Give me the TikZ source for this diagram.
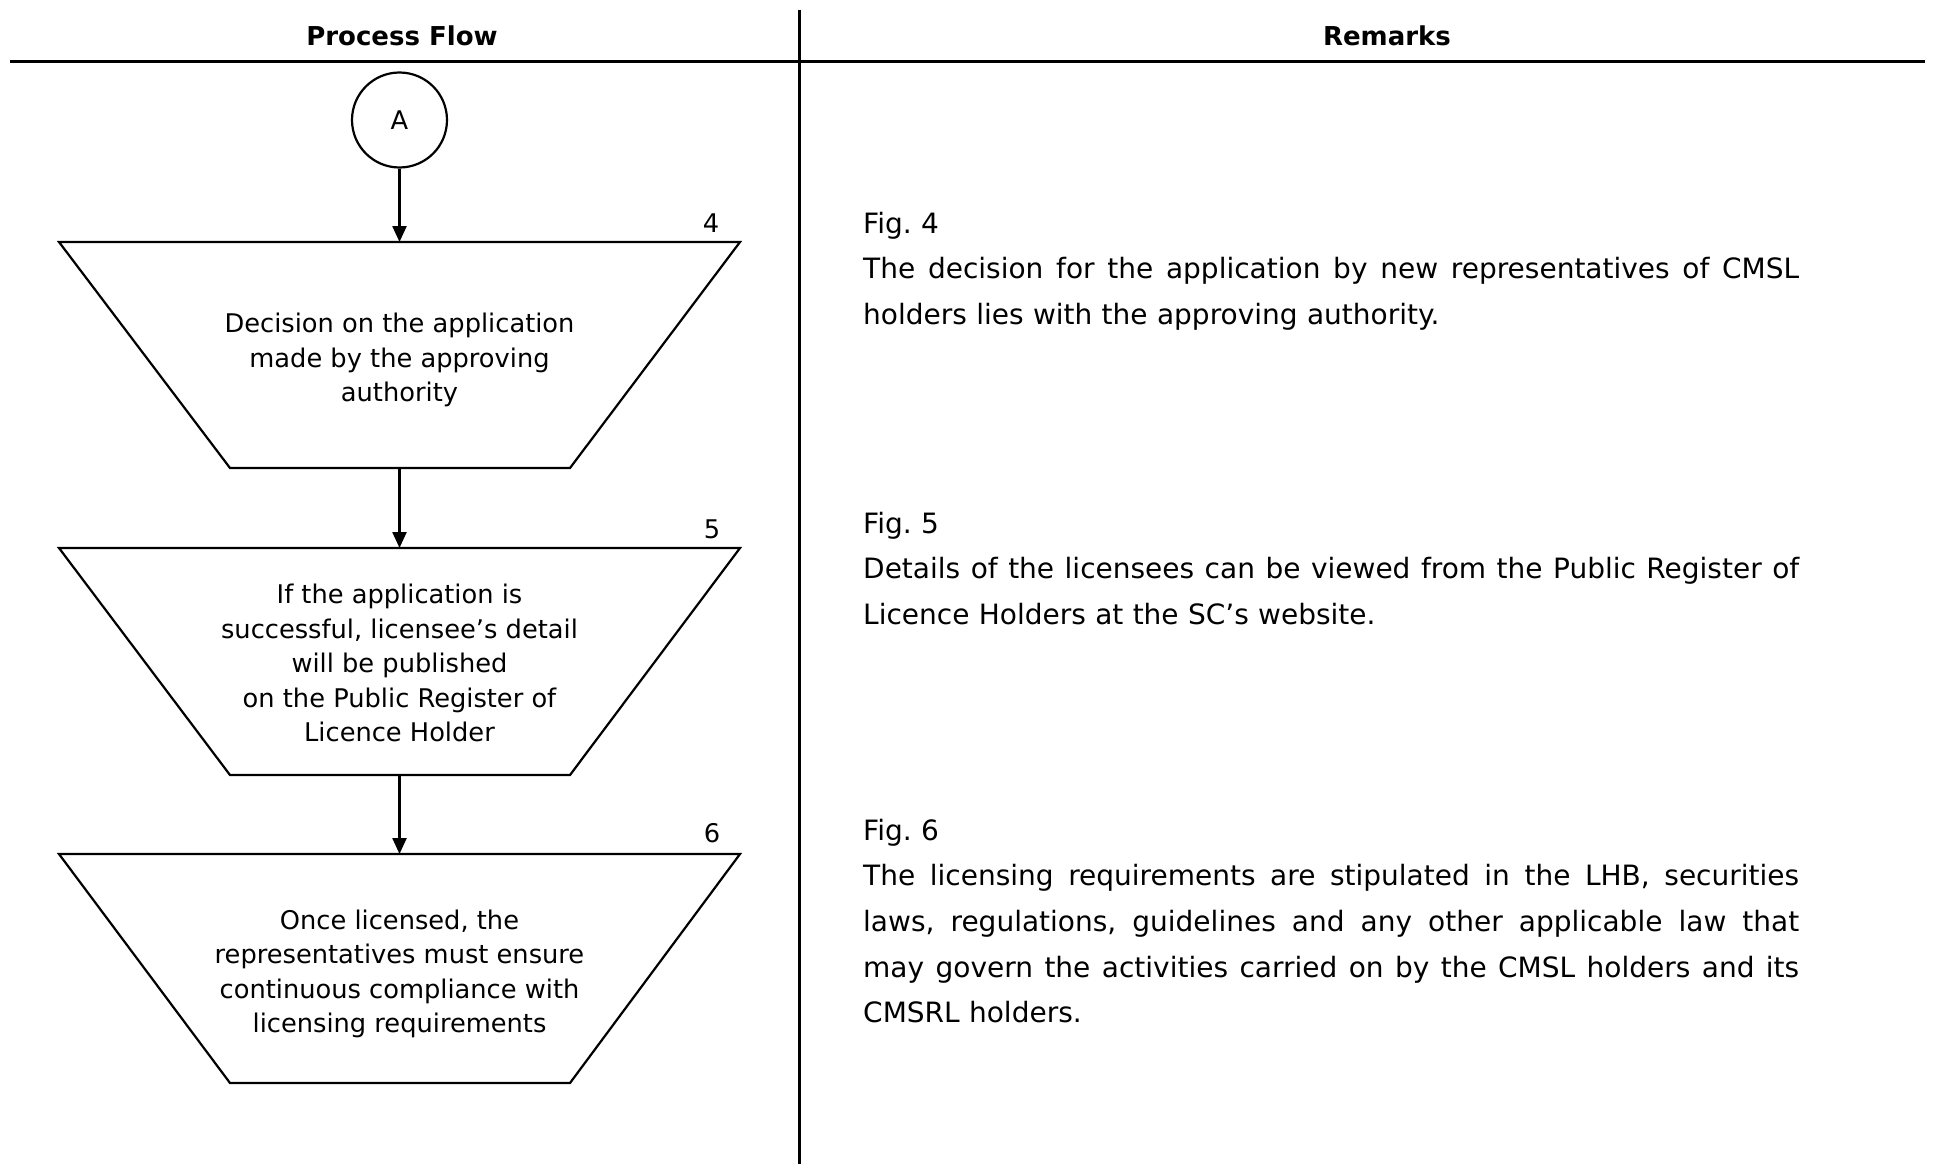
\documentclass[tikz,border=0pt]{standalone}
\usepackage{fontspec}
\setmainfont{DejaVu Sans}
\usetikzlibrary{arrows.meta}
\frenchspacing
% a fully justified line of the given width
\newcommand\jline[2]{\leavevmode\hbox to #1{\spaceskip=\fontdimen2\font plus 1fill minus \fontdimen4\font\relax #2}}
\begin{document}
\begin{tikzpicture}[x=1pt,y=-1pt,
  rule/.style={line width=3pt},
  boxline/.style={draw,line width=2.2pt,line join=miter},
  boxtext/.style={inner sep=0pt,align=center,font=\fontsize{25.7}{34.5}\selectfont},
  connector/.style={draw,line width=2.2pt,circle,minimum width=95pt,inner sep=0pt,
    font=\fontsize{25.7}{32}\selectfont},
  flow/.style={line width=2.4pt,-{Triangle[length=16pt,width=14pt]}},
  head/.style={font=\fontsize{26}{32}\selectfont\bfseries},
  stepno/.style={font=\fontsize{25.7}{32}\selectfont},
  remark/.style={anchor=base west,inner sep=0pt,text width=936pt,align=left,
    font=\fontsize{28}{45.7}\selectfont}]
\useasboundingbox (0,0) rectangle (1935,1164);

% table rules
\coordinate (hl) at (10,61.5);
\coordinate (hr) at (1925,61.5);
\coordinate (vt) at (799,10);
\coordinate (vb) at (799,1164);
\draw[rule] (hl) -- (hr);
\draw[rule] (vt) -- (vb);

% column headings
\node[head] (hflow) at (402,36) {Process Flow};
\node[head] (hrem) at (1387,36) {Remarks};

% process flow: connector and three inverted trapezia
\node[connector] (A) at (399.5,120) {A};

\coordinate (s4top) at (399.5,242);
\coordinate (s4bot) at (399.5,468);
\draw[boxline] (59,242) -- (740,242) -- (570,468) -- (230,468) -- cycle;
\node[boxtext] (s4) at (399.5,360) {Decision on the application\\made by the approving\\authority};

\coordinate (s5top) at (399.5,548);
\coordinate (s5bot) at (399.5,775);
\draw[boxline] (59,548) -- (740,548) -- (570,775) -- (230,775) -- cycle;
\node[boxtext] (s5) at (399.5,663) {If the application is\\successful, licensee’s detail\\will be published\\on the Public Register of\\Licence Holder};

\coordinate (s6top) at (399.5,854);
\draw[boxline] (59,854) -- (740,854) -- (570,1083) -- (230,1083) -- cycle;
\node[boxtext] (s6) at (399.5,974) {Once licensed, the\\representatives must ensure\\continuous compliance with\\licensing requirements};

\draw[flow] (A) -- (s4top);
\draw[flow] (s4bot) -- (s5top);
\draw[flow] (s5bot) -- (s6top);

\node[stepno] (n4) at (711,223) {4};
\node[stepno] (n5) at (712,529) {5};
\node[stepno] (n6) at (712,833) {6};

% remarks
\node[remark] (r4) at (863,233) {Fig. 4\\
\jline{936pt}{The decision for the application by new representatives of CMSL}\\
holders lies with the approving authority.};
\node[remark] (r5) at (863,533) {Fig. 5\\
\jline{936pt}{Details of the licensees can be viewed from the Public Register of}\\
Licence Holders at the SC’s website.};
\node[remark] (r6) at (863,840) {Fig. 6\\
\jline{936pt}{The licensing requirements are stipulated in the LHB, securities}\\
\jline{936pt}{laws, regulations, guidelines and any other applicable law that}\\
\jline{936pt}{may govern the activities carried on by the CMSL holders and its}\\
CMSRL holders.};
\end{tikzpicture}
\end{document}
